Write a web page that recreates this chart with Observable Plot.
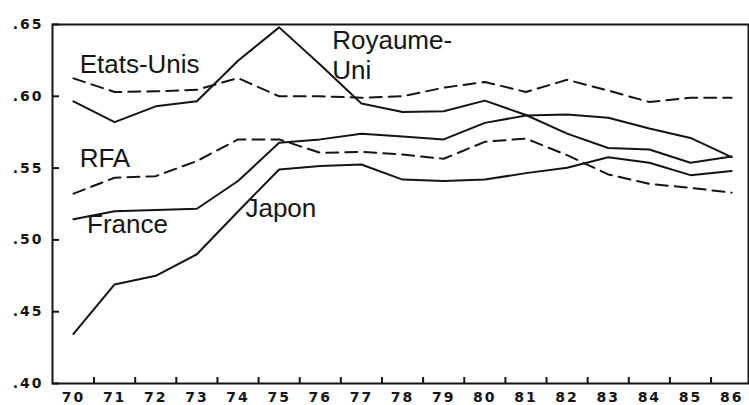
<!DOCTYPE html>
<html><head><meta charset="utf-8">
<script src="https://cdn.jsdelivr.net/npm/d3@7"></script>
<script src="https://cdn.jsdelivr.net/npm/@observablehq/plot@0.6"></script>
<style>body{margin:0;background:#fff}</style>
</head><body><div id="chart"></div>
<script>
const years = [70,71,72,73,74,75,76,77,78,79,80,81,82,83,84,85,86];
const etatsUnis  = [0.6125,0.603,0.6035,0.6045,0.6127,0.600,0.600,0.599,0.600,0.606,0.610,0.603,0.6115,0.604,0.596,0.599,0.599];
const royaumeUni = [0.5965,0.582,0.593,0.5965,0.6248,0.648,0.622,0.595,0.589,0.5896,0.597,0.587,0.574,0.564,0.563,0.5537,0.558];
const rfa        = [0.5322,0.5433,0.5444,0.5549,0.570,0.570,0.5606,0.5613,0.5595,0.5565,0.5683,0.5706,0.559,0.5456,0.539,0.5363,0.5329];
const france     = [0.5144,0.520,0.5208,0.5217,0.541,0.5676,0.570,0.574,0.572,0.570,0.5815,0.5866,0.5873,0.585,0.5776,0.571,0.5576];
const japon      = [0.4345,0.469,0.475,0.490,0.5198,0.549,0.5514,0.5525,0.542,0.541,0.542,0.5465,0.5502,0.5576,0.5537,0.5451,0.548];

const seriesNames = ["Etats-Unis","Royaume-Uni","RFA","France","Japon"];
const seriesValues = [etatsUnis, royaumeUni, rfa, france, japon];
const seriesDashed = [true, false, true, false, false];

const yTicks = [0.40,0.45,0.50,0.55,0.60,0.65];
const xBoundaries = [70.5,71.5,72.5,73.5,74.5,75.5,76.5,77.5,78.5,79.5,80.5,81.5,82.5,83.5,84.5,85.5];

// annotation labels (anchored in data units)
const labelText  = ["Etats-Unis","RFA","France","Japon","Royaume-\nUni"];
const labelYear  = [70.15, 70.15, 70.33, 74.18, 76.29];
const labelValue = [0.6159, 0.5506, 0.5045, 0.5158, 0.6122];

const rows = seriesNames.flatMap((name, i) =>
  years.map((yr, j) => ({name, year: yr, value: seriesValues[i][j], dashed: seriesDashed[i]})));
const labels = labelText.map((t, i) => ({text: t, year: labelYear[i], value: labelValue[i]}));

const ink = "#141414";
const lineOpts = {x: "year", y: "value", z: "name", stroke: ink, strokeWidth: 2, curve: "linear"};

const chart = Plot.plot({
  width: 749, height: 405,
  marginLeft: 52, marginRight: 1, marginTop: 24, marginBottom: 22,
  style: {fontFamily: "DejaVu Sans", background: "#fff", color: ink},
  x: {domain: [69.49, 86.41], label: null},
  y: {domain: [0.40, 0.65], label: null},
  marks: [
    Plot.line(rows.filter(d => !d.dashed), lineOpts),
    Plot.line(rows.filter(d => d.dashed), {...lineOpts, strokeDasharray: "12,7"}),
    Plot.frame({stroke: ink, strokeWidth: 2}),
    Plot.axisY({ticks: yTicks, tickSize: 7, dx: 7, tickFormat: () => "", label: null, strokeWidth: 2, stroke: ink}),
    Plot.axisY({ticks: yTicks, tickSize: 0, tickPadding: 9, tickFormat: d => d.toFixed(2).slice(1), label: null,
                fontSize: 14, fontWeight: "bold", fill: ink}),
    Plot.axisX({ticks: xBoundaries, tickSize: 6, dy: -6, tickFormat: () => "", label: null, strokeWidth: 2, stroke: ink}),
    Plot.axisX({ticks: years, tickSize: 0, tickPadding: 9, tickFormat: d => String(d), label: null,
                fontSize: 14, fontWeight: "bold", fill: ink}),
    Plot.text(labels, {x: "year", y: "value", text: "text", textAnchor: "start", lineAnchor: "bottom",
                       fontSize: 26, fontFamily: "Liberation Sans", lineHeight: 1.15, fill: ink})
  ]
});
chart.querySelectorAll('[aria-label$="tick label"]').forEach(g => g.style.letterSpacing = "2px");
document.getElementById("chart").append(chart);
</script>
</body></html>
